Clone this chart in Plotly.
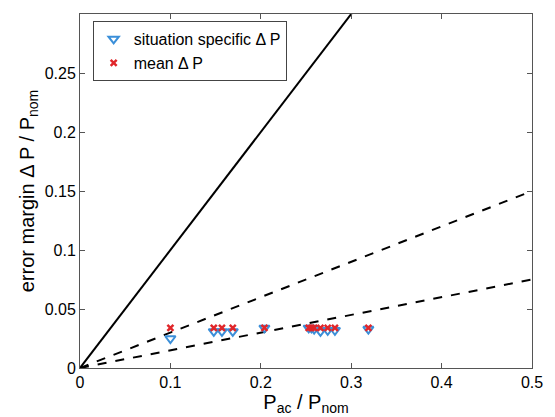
import plotly.graph_objects as go

# data
p_ac = [0.100, 0.148, 0.157, 0.169, 0.204, 0.253, 0.256, 0.259, 0.266, 0.274, 0.282, 0.319]
dp_specific = [0.025, 0.031, 0.031, 0.031, 0.034, 0.034, 0.034, 0.033, 0.031, 0.032, 0.032, 0.033]
dp_mean = [0.034, 0.034, 0.034, 0.034, 0.034, 0.034, 0.034, 0.034, 0.034, 0.034, 0.034, 0.034]
line_x = [0, 0.5]
solid_slope = 1.0
dashed_slopes = [0.3, 0.15]

fig = go.Figure()
fig.add_trace(go.Scatter(x=line_x, y=[solid_slope * v for v in line_x], mode="lines",
                         line=dict(color="black", width=2), showlegend=False))
for s in dashed_slopes:
    fig.add_trace(go.Scatter(x=line_x, y=[s * v for v in line_x], mode="lines",
                             line=dict(color="black", width=2, dash="dash"), showlegend=False))
fig.add_trace(go.Scatter(x=p_ac, y=dp_specific, mode="markers", name="situation specific Δ P",
                         marker=dict(symbol="triangle-down", size=9, color="rgba(255,255,255,0.3)",
                                     line=dict(color="#3b8fd9", width=2))))
fig.add_trace(go.Scatter(x=p_ac, y=dp_mean, mode="markers", name="mean Δ P",
                         marker=dict(symbol="x-thin", size=6, color="#e0262a",
                                     line=dict(color="#e0262a", width=2.5))))

fig.update_layout(
    width=555, height=417,
    margin=dict(l=80, r=14, t=14, b=46),
    paper_bgcolor="white", plot_bgcolor="white",
    font=dict(family="Liberation Sans, Arial, sans-serif", size=16, color="black"),
    legend=dict(x=0.028, y=0.98, xanchor="left", yanchor="top",
                bordercolor="#444", borderwidth=1, bgcolor="white",
                font=dict(size=16), tracegroupgap=0),
    xaxis=dict(range=[0, 0.5], tickvals=[0, 0.1, 0.2, 0.3, 0.4, 0.5],
               ticktext=["0", "0.1", "0.2", "0.3", "0.4", "0.5"],
               ticks="inside", ticklen=5, tickcolor="#555", mirror="ticks",
               tickfont=dict(size=16),
               showline=True, linecolor="#555", linewidth=1, showgrid=False, zeroline=False,
               title=dict(text="P<sub>ac</sub> / P<sub>nom</sub>", font=dict(size=20), standoff=0)),
    yaxis=dict(range=[0, 0.3], tickvals=[0, 0.05, 0.1, 0.15, 0.2, 0.25],
               ticktext=["0", "0.05", "0.1", "0.15", "0.2", "0.25"],
               ticks="inside", ticklen=5, tickcolor="#555", mirror="ticks",
               tickfont=dict(size=16),
               showline=True, linecolor="#555", linewidth=1, showgrid=False, zeroline=False,
               title=dict(text="error margin Δ P / P<sub>nom</sub>", font=dict(size=20), standoff=4)),
)
fig.write_html("out.html")
